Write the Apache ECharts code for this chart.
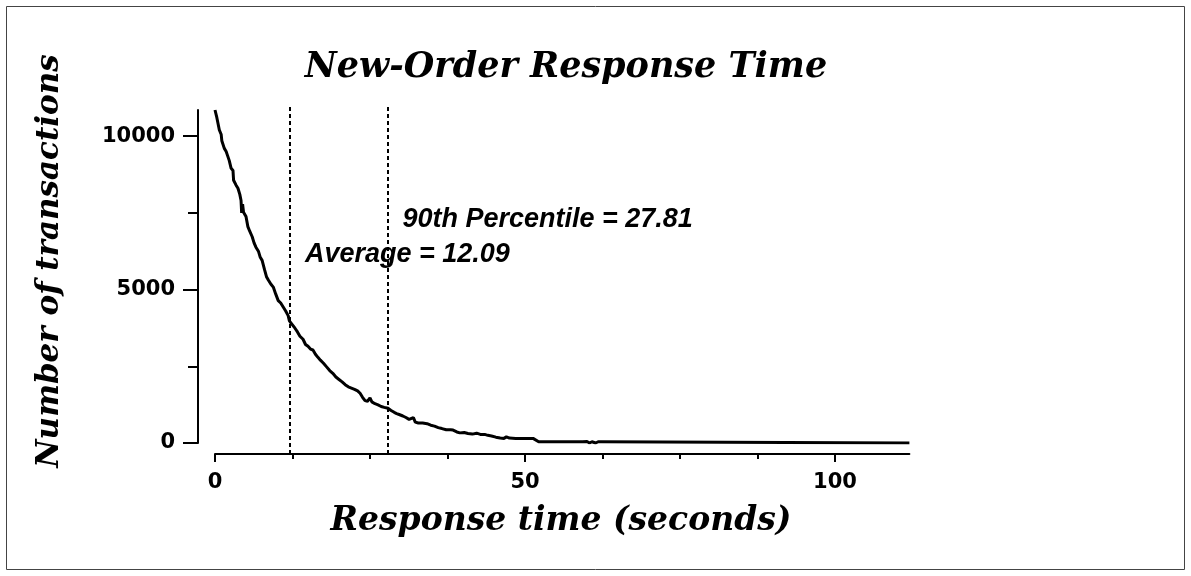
<!DOCTYPE html>
<html>
<head>
<meta charset="utf-8">
<script src="https://cdn.jsdelivr.net/npm/echarts@6/dist/echarts.min.js"></script>
<style>
  html, body { margin: 0; padding: 0; background: #fff; }
  #chart { width: 1191px; height: 576px; }
</style>
</head>
<body>
<div id="chart"></div>
<script>
// 响应时间分布 (秒 -> 交易数)
const responseTimes = [
  0, 0.3, 0.7, 1.0, 1.1, 1.5, 1.8, 2.0, 2.3, 2.6, 2.9, 3.0, 3.4, 3.7, 4.0, 4.2, 4.3, 4.45, 4.6,
  5.0, 5.3, 5.6, 6.0, 6.3, 6.6, 7.0, 7.3, 7.6, 8.0, 8.3, 8.6, 9.0, 9.4, 9.8,
  10.2, 10.6, 11.0, 11.4, 11.8, 12.0, 12.3, 12.6, 12.9, 13.3, 13.7, 14.2, 14.6,
  15.0, 15.4, 15.8, 16.2, 16.6, 17.0, 17.5, 18.0, 18.5, 19.0, 19.5,
  20.0, 20.5, 21.0, 21.5, 22.0, 22.5, 23.0, 23.4, 23.8, 24.2, 24.6,
  25.0, 25.3, 25.8, 26.3, 26.8, 27.3, 27.9, 28.4, 28.9, 29.3, 29.8,
  30.3, 30.8, 31.3, 31.6, 32.0, 32.3, 32.8, 33.5, 34.2, 34.8, 35.4, 36.0, 36.6, 37.3,
  38.0, 38.4, 39.0, 39.5, 40.2, 40.8, 41.5, 42.2, 42.8, 43.5, 44.0, 44.6, 45.3,
  46.0, 46.6, 47.0, 47.5, 48.5, 50.0, 51.3, 51.6, 52.2, 55.0, 58.6, 58.9, 59.3,
  60.0, 60.4, 60.8, 61.4, 61.8, 62.3, 62.6, 112
];
const transactionCounts = [
  10850, 10600, 10200, 10050, 9850, 9600, 9500, 9380, 9200, 8950, 8880, 8560, 8400, 8300, 8100, 7900, 7500, 7780, 7520,
  7380, 7050, 6900, 6720, 6520, 6380, 6250, 6050, 5950, 5640, 5420, 5310, 5180, 5080, 4850,
  4640, 4560, 4430, 4300, 4150, 3980, 3900, 3860, 3740, 3620, 3480, 3380, 3210,
  3150, 3060, 3030, 2890, 2790, 2700, 2600, 2480, 2360, 2270, 2150,
  2070, 1990, 1900, 1830, 1790, 1750, 1700, 1620, 1490, 1380, 1360,
  1470, 1340, 1280, 1240, 1190, 1160, 1130, 1060, 1000, 960, 920,
  880, 830, 770, 760, 830, 680, 650, 650, 630, 580, 550, 500, 470, 430,
  430, 420, 360, 330, 340, 310, 290, 320, 280, 280, 250, 230, 190,
  160, 150, 200, 160, 150, 150, 150, 100, 40, 40, 40, 0, 40,
  50, 0, 40, 0, 40, 40, 0, 0
];

const xLabelTicks = [0, 50, 100];
const xMinorTicks = [12.5, 25, 37.5, 62.5, 75, 87.5];
const yLabelTicks = [0, 5000, 10000];
const yMinorTicks = [2500, 7500];

const averageTime = 12.09;
const percentile90 = 27.81;

const X_MAX = 112;
const Y_MAX = 10850;

const tickFont = {
  fontFamily: 'DejaVu Sans',
  fontWeight: 'bold',
  fontSize: 21,
  color: '#000'
};
const black = { color: '#000', width: 2 };

const chart = echarts.init(document.getElementById('chart'));

chart.setOption({
  animation: false,
  backgroundColor: '#fff',
  title: {
    text: 'New-Order Response Time',
    left: 561,
    textAlign: 'center',
    top: 45,
    textStyle: {
      fontFamily: 'DejaVu Serif',
      fontWeight: 'bold',
      fontStyle: 'italic',
      fontSize: 35,
      color: '#000'
    }
  },
  graphic: [
    {
      type: 'rect',
      shape: { x: 6.5, y: 6.5, width: 1178, height: 563 },
      style: { fill: 'none', stroke: '#444', lineWidth: 1 },
      silent: true
    },
    {
      type: 'text',
      x: 561,
      y: 521,
      style: {
        text: 'Response time (seconds)',
        align: 'center',
        verticalAlign: 'middle',
        font: 'italic bold 33px "DejaVu Serif"',
        fill: '#000'
      },
      silent: true
    },
    {
      type: 'text',
      x: 50,
      y: 261,
      rotation: Math.PI / 2,
      style: {
        text: 'Number of transactions',
        align: 'center',
        verticalAlign: 'middle',
        font: 'italic bold 31px "DejaVu Serif"',
        fill: '#000'
      },
      silent: true
    }
  ],
  grid: [
    { left: 215, top: 110, width: 694.4, height: 333 },
    { left: 215, top: 107, width: 694.4, height: 347 }
  ],
  xAxis: [
    {
      gridIndex: 0,
      type: 'value',
      position: 'bottom',
      min: 0,
      max: X_MAX,
      offset: 11,
      splitLine: { show: false },
      axisLine: { onZero: false, lineStyle: black },
      axisTick: { customValues: xLabelTicks, length: 8, lineStyle: black },
      axisLabel: { customValues: xLabelTicks, margin: 18, formatter: v => String(v), ...tickFont }
    },
    {
      gridIndex: 0,
      type: 'value',
      position: 'bottom',
      min: 0,
      max: X_MAX,
      offset: 11,
      splitLine: { show: false },
      axisLine: { show: false, onZero: false },
      axisTick: { customValues: xMinorTicks, length: 5, lineStyle: black },
      axisLabel: { show: false }
    },
    {
      gridIndex: 1,
      type: 'value',
      min: 0,
      max: X_MAX,
      show: false
    }
  ],
  yAxis: [
    {
      gridIndex: 0,
      type: 'value',
      position: 'left',
      min: 0,
      max: Y_MAX,
      offset: 17,
      splitLine: { show: false },
      axisLine: { show: true, onZero: false, lineStyle: black },
      axisTick: { show: true, customValues: yLabelTicks, length: 15, lineStyle: black },
      axisLabel: {
        customValues: yLabelTicks,
        margin: 23,
        padding: [6, 0, 0, 0],
        formatter: v => String(v),
        ...tickFont
      }
    },
    {
      gridIndex: 0,
      type: 'value',
      position: 'left',
      min: 0,
      max: Y_MAX,
      offset: 17,
      splitLine: { show: false },
      axisLine: { show: false, onZero: false },
      axisTick: { show: true, customValues: yMinorTicks, length: 10, lineStyle: black },
      axisLabel: { show: false }
    },
    {
      gridIndex: 1,
      type: 'value',
      min: 0,
      max: 1,
      show: false
    }
  ],
  series: [
    {
      type: 'line',
      xAxisIndex: 0,
      yAxisIndex: 0,
      data: responseTimes.map((t, i) => [t, transactionCounts[i]]),
      symbol: 'none',
      lineStyle: { color: '#000', width: 3 },
      clip: true,
      markPoint: {
        symbol: 'circle',
        symbolSize: 0,
        label: {
          show: true,
          position: 'right',
          distance: 15,
          fontFamily: 'Liberation Sans',
          fontSize: 27,
          fontWeight: 'bold',
          fontStyle: 'italic',
          color: '#000'
        },
        data: [
          { coord: [percentile90, 7266], label: { formatter: '90th Percentile = ' + percentile90 } },
          { coord: [averageTime, 6125], label: { formatter: 'Average = ' + averageTime } }
        ]
      }
    },
    {
      type: 'line',
      xAxisIndex: 2,
      yAxisIndex: 2,
      data: [],
      markLine: {
        silent: true,
        symbol: ['none', 'none'],
        label: { show: false },
        lineStyle: { color: '#000', width: 2, type: [4, 3] },
        data: [{ xAxis: averageTime }, { xAxis: percentile90 }]
      }
    }
  ]
});
</script>
</body>
</html>
